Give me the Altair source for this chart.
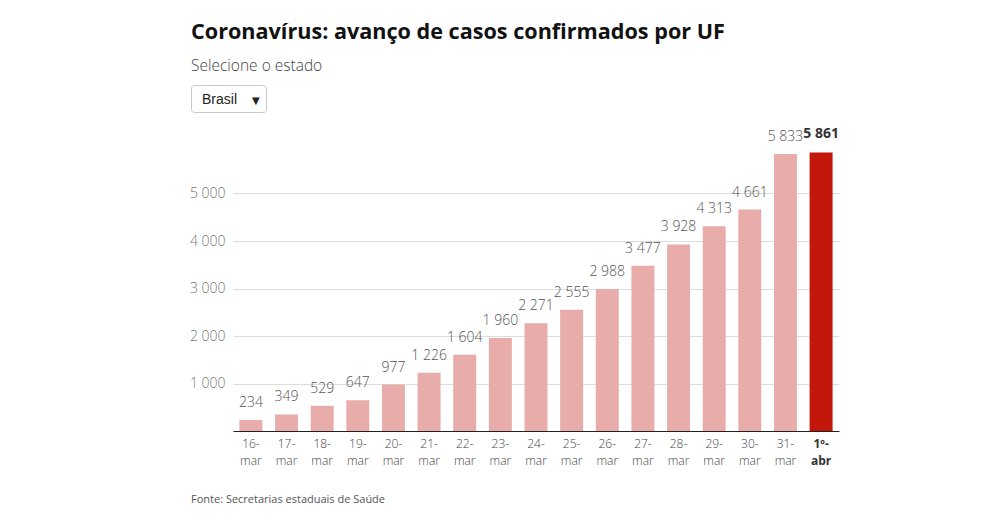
import altair as alt
import pandas as pd

days = ["16-mar", "17-mar", "18-mar", "19-mar", "20-mar", "21-mar", "22-mar",
        "23-mar", "24-mar", "25-mar", "26-mar", "27-mar", "28-mar", "29-mar",
        "30-mar", "31-mar", "1º-abr"]
cases = [234, 349, 529, 647, 977, 1226, 1604, 1960, 2271, 2555, 2988, 3477,
         3928, 4313, 4661, 5833, 5861]
highlight = ["não"] * 16 + ["sim"]

title_text = "Coronavírus: avanço de casos confirmados por UF"
subtitle_text = "Selecione o estado"
select_text = "Brasil"
source_text = "Fonte: Secretarias estaduais de Saúde"

df = pd.DataFrame({
    "dia": days,
    "casos": cases,
    "hl": highlight,
    "rotulo": [f"{v:,}".replace(",", " ") for v in cases],
})

PINK = "#e8adaa"
RED = "#c4170c"
FONT = "Open Sans"

x = alt.X(
    "dia:N", sort=days, title=None,
    scale=alt.Scale(paddingInner=0.355, paddingOuter=0.18),
    axis=alt.Axis(
        labelAngle=0,
        labelExpr="[split(datum.label, '-')[0] + '-', split(datum.label, '-')[1]]",
        labelFont=FONT, labelFontSize=12, labelLineHeight=17, labelPadding=7,
        labelColor=alt.condition("datum.value == '1º-abr'", alt.value("#333333"), alt.value("#444444")),
        labelFontWeight=alt.condition("datum.value == '1º-abr'", alt.value("bold"), alt.value(300)),
        ticks=False, domainColor="#222222", domainWidth=1.2, grid=False,
    ),
)
y = alt.Y(
    "casos:Q", title=None,
    scale=alt.Scale(domain=[0, 6000], nice=False),
    axis=alt.Axis(
        values=[1000, 2000, 3000, 4000, 5000],
        labelExpr="replace(format(datum.value, ','), ',', ' ')",
        labelFont=FONT, labelFontSize=14, labelFontWeight=300, labelColor="#777777", labelPadding=8,
        ticks=False, domain=False, gridColor="#dddddd", gridWidth=1,
    ),
)

base = alt.Chart(df)
bars = base.mark_bar().encode(
    x=x, y=y,
    color=alt.Color("hl:N", scale=alt.Scale(domain=["não", "sim"], range=[PINK, RED]), legend=None),
)
labels = base.transform_filter("datum.hl == 'não'").mark_text(
    baseline="alphabetic", dy=-13, font=FONT, fontSize=14, fontWeight=300, color="#555555"
).encode(x=alt.X("dia:N", sort=days), y="casos:Q", text="rotulo:N")
label_last = base.transform_filter("datum.hl == 'sim'").mark_text(
    baseline="alphabetic", dy=-15, font=FONT, fontSize=14, fontWeight="bold", color="#333333"
).encode(x=alt.X("dia:N", sort=days), y="casos:Q", text="rotulo:N")

def note(txt, xv, yv, **kw):
    return alt.Chart(pd.DataFrame({"t": [txt]})).mark_text(
        align="left", baseline="alphabetic", **kw
    ).encode(text="t:N", x=alt.value(xv), y=alt.value(yv))

title = note(title_text, -42, -107, font=FONT, fontSize=21.6, fontWeight="bold", color="#111111")
subtitle = note(subtitle_text, -42, -75, font=FONT, fontSize=15.5, fontWeight=300, color="#444444")
source = note(source_text, -42, 357, font=FONT, fontSize=11, color="#555555")
box = alt.Chart(pd.DataFrame({"t": [select_text]})).mark_rect(
    fill="white", stroke="#c8c8c8", strokeWidth=1, cornerRadius=3
).encode(x=alt.value(-41.5), x2=alt.value(33.5), y=alt.value(-60.5), y2=alt.value(-33.5))
sel = note(select_text, -31, -42, font="Liberation Sans", fontSize=14, color="#222222")
arrow = note("▼", 19, -42, font="DejaVu Sans", fontSize=10, color="#222222")

chart = alt.layer(bars, labels, label_last, title, subtitle, source, box, sel, arrow).properties(
    width=606, height=285,
    autosize=alt.AutoSizeParams(type="none"),
    padding={"left": 225, "top": 138, "right": 130, "bottom": 85},
).configure_view(stroke=None)

chart.save("out.html", embed_options={"renderer": "svg", "actions": False})
